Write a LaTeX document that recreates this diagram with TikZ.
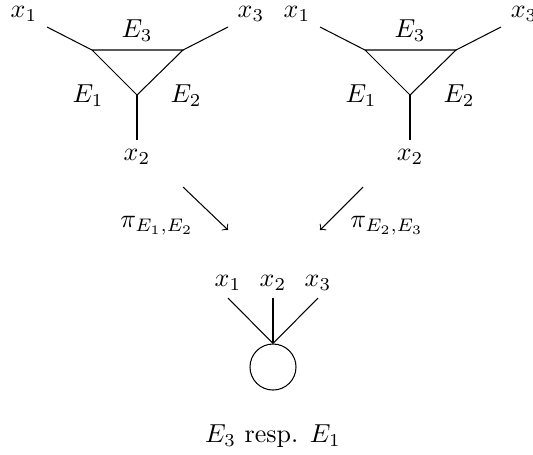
\documentclass[tikz,border=0pt]{standalone}
\usetikzlibrary{positioning}
\tikzset{
  edge/.style={draw=black,line width=0.4pt},
  proj/.style={->,line width=0.4pt},
  lbl/.style={inner sep=0pt},
  vertex/.style={draw,circle,inner sep=0pt,minimum size=17.7pt,line width=0.4pt}
}
\begin{document}
\begin{tikzpicture}[x=0.3846pt,y=-0.3846pt]
  \useasboundingbox (0,0) rectangle (533,454);
  % the two triangle graphs
  \foreach \g/\dx in {l/0,r/273}{
    \coordinate (\g1) at (\dx+92,50);
    \coordinate (\g3) at (\dx+183,50);
    \coordinate (\g2) at (\dx+137,95);
    \coordinate (\g1o) at (\dx+47,27);
    \coordinate (\g3o) at (\dx+228,27);
    \coordinate (\g2o) at (\dx+137,140);
    \draw[edge] (\g1) -- (\g3) -- (\g2) -- cycle;
    \draw[edge] (\g1) -- (\g1o);
    \draw[edge] (\g3) -- (\g3o);
    \draw[edge] (\g2) -- (\g2o);
    \node[lbl] (\g x1) at (\dx+24,14) {$x_1$};
    \node[lbl] (\g x3) at (\dx+251,14) {$x_3$};
    \node[lbl] (\g x2) at (\dx+137,157) {$x_2$};
    \node[lbl] (\g E3) at (\dx+137,31) {$E_3$};
    \node[lbl] (\g E1) at (\dx+88,96) {$E_1$};
    \node[lbl] (\g E2) at (\dx+186,96) {$E_2$};
  }
  % projections
  \coordinate (pl0) at (183,187);
  \coordinate (pl1) at (228,230);
  \coordinate (pr0) at (363,187);
  \coordinate (pr1) at (320,230);
  \draw[proj] (pl0) -- (pl1);
  \draw[proj] (pr0) -- (pr1);
  \node[lbl] (pil) at (157,226) {$\pi_{E_1,E_2}$};
  \node[lbl] (pir) at (387,226) {$\pi_{E_2,E_3}$};
  % the contracted graph
  \node[vertex] (loop) at (273,367) {};
  \coordinate (hub) at (loop.north);
  \foreach \i/\x in {1/228,2/273,3/318}{
    \coordinate (b\i) at (\x,298);
    \draw[edge] (b\i) -- (hub);
    \node[lbl] (bx\i) at (\x,283) {$x_\i$};
  }
  \node[lbl] (cap) at (273,436) {$E_3$ resp. $E_1$};
\end{tikzpicture}
\end{document}
